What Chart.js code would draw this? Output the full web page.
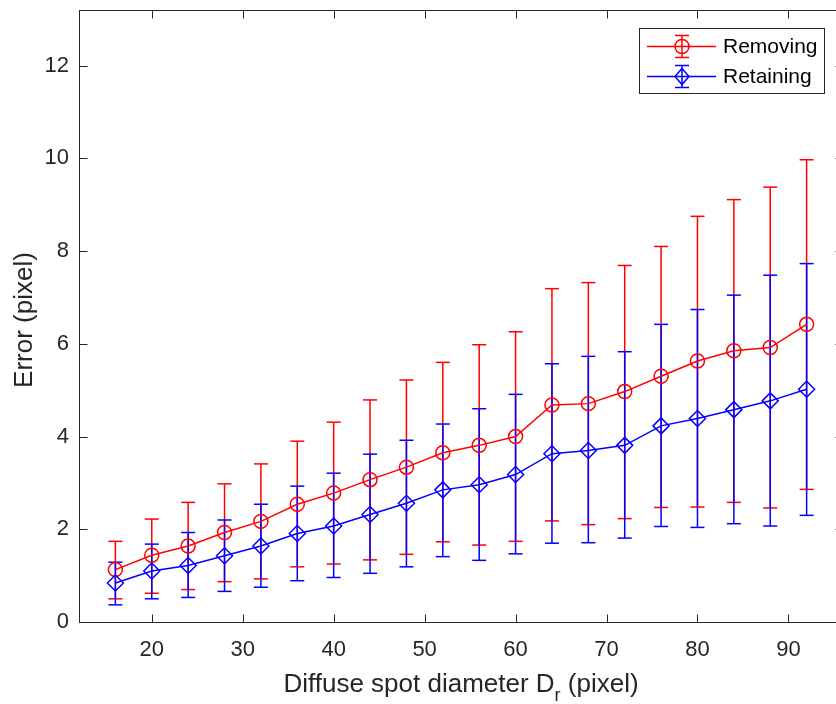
<!DOCTYPE html>
<html>
<head>
<meta charset="utf-8">
<script src="https://cdn.jsdelivr.net/npm/chart.js@4.4.1/dist/chart.umd.min.js"></script>
<style>
  html, body { margin: 0; padding: 0; background: #fff; overflow: hidden; }
  #wrap { width: 836px; height: 704px; overflow: hidden; position: relative; }
  #wrap canvas { display: block; }
</style>
</head>
<body>
<div id="wrap"><canvas id="chart" width="860" height="704"></canvas></div>
<script>
// values
const diameters = [16, 20, 24, 28, 32, 36, 40, 44, 48, 52, 56, 60, 64, 68, 72, 76, 80, 84, 88, 92];

const removingMean  = [1.13, 1.44, 1.64, 1.93, 2.17, 2.54, 2.78, 3.07, 3.34, 3.65, 3.81, 4.00, 4.68, 4.71, 4.97, 5.30, 5.63, 5.85, 5.92, 6.42];
const removingUpper = [1.74, 2.22, 2.58, 2.98, 3.41, 3.90, 4.31, 4.79, 5.22, 5.60, 5.98, 6.26, 7.19, 7.32, 7.69, 8.10, 8.75, 9.11, 9.38, 9.97];
const removingLower = [0.50, 0.62, 0.70, 0.87, 0.93, 1.19, 1.25, 1.34, 1.46, 1.73, 1.66, 1.74, 2.18, 2.10, 2.23, 2.47, 2.48, 2.58, 2.46, 2.86];

const retainingMean  = [0.84, 1.10, 1.22, 1.43, 1.64, 1.91, 2.07, 2.32, 2.56, 2.85, 2.96, 3.18, 3.63, 3.70, 3.81, 4.23, 4.39, 4.58, 4.77, 5.02];
const retainingUpper = [1.29, 1.68, 1.93, 2.20, 2.54, 2.93, 3.21, 3.62, 3.92, 4.27, 4.60, 4.91, 5.57, 5.73, 5.83, 6.42, 6.74, 7.05, 7.48, 7.73];
const retainingLower = [0.37, 0.50, 0.53, 0.66, 0.75, 0.89, 0.96, 1.05, 1.19, 1.41, 1.33, 1.47, 1.70, 1.71, 1.81, 2.06, 2.04, 2.12, 2.07, 2.30];

const seriesNames = ['Removing', 'Retaining'];
const xTicks = [20, 30, 40, 50, 60, 70, 80, 90];
const yTicks = [0, 2, 4, 6, 8, 10, 12];
const xTitle = ['Diffuse spot diameter D', 'r', ' (pixel)'];
const yTitle = 'Error (pixel)';

const AXIS = '#262626';
const RED = '#ff0000';
const BLUE = '#0000ff';
const FONT = '"Liberation Sans", Arial, Helvetica, sans-serif';

const toPoints = (ys) => diameters.map((d, i) => ({x: d, y: ys[i]}));

function line(ctx, x1, y1, x2, y2) {
    ctx.beginPath();
    ctx.moveTo(x1, y1);
    ctx.lineTo(x2, y2);
    ctx.stroke();
}

// no extra label padding from the scales, so the plot box is fixed by layout.padding
function fixPadding(s) {
    s.paddingTop = 0;
    s.paddingBottom = 0;
    s.paddingLeft = 0;
    s.paddingRight = 0;
}

// frame, inward ticks on all sides, error bars (drawn under the lines)
const frameAndBars = {
    id: 'frameAndBars',
    beforeDatasetsDraw(chart) {
        const {ctx, chartArea: a, scales: {x, y}} = chart;
        ctx.save();
        ctx.strokeStyle = AXIS;
        ctx.lineWidth = 1;
        const L = Math.round(a.left) + 0.5, R = Math.round(a.right) + 0.5;
        const T = Math.round(a.top) + 0.5, B = Math.round(a.bottom) + 0.5;
        ctx.strokeRect(L, T, R - L, B - T);
        xTicks.forEach(v => {
            const px = Math.round(x.getPixelForValue(v)) + 0.5;
            line(ctx, px, B, px, B - 8);
            line(ctx, px, T, px, T + 8);
        });
        yTicks.forEach(v => {
            const py = Math.round(y.getPixelForValue(v)) + 0.5;
            line(ctx, L, py, L + 8, py);
            line(ctx, R, py, R - 8, py);
        });

        const bars = [[removingLower, removingUpper, RED], [retainingLower, retainingUpper, BLUE]];
        ctx.lineWidth = 1.5;
        bars.forEach(([lo, hi, col]) => {
            ctx.strokeStyle = col;
            diameters.forEach((d, i) => {
                const px = x.getPixelForValue(d);
                const p1 = y.getPixelForValue(lo[i]);
                const p2 = y.getPixelForValue(hi[i]);
                line(ctx, px, p1, px, p2);
                line(ctx, px - 7, p1, px + 7, p1);
                line(ctx, px - 7, p2, px + 7, p2);
            });
        });
        ctx.restore();
    },
    afterDraw(chart) {
        const {ctx, chartArea: a} = chart;
        ctx.save();
        // legend
        const bx = 639.5, by = 28.5, bw = 185, bh = 65;
        ctx.fillStyle = '#fff';
        ctx.fillRect(bx, by, bw, bh);
        ctx.strokeStyle = AXIS;
        ctx.lineWidth = 1;
        ctx.strokeRect(bx, by, bw, bh);
        const rows = [[RED, 'circle', 46.5], [BLUE, 'diamond', 76.5]];
        ctx.lineWidth = 1.5;
        rows.forEach(([col, shape, cy], i) => {
            ctx.strokeStyle = col;
            line(ctx, 647, cy, 716, cy);
            const mx = 682;
            line(ctx, mx, cy - 11, mx, cy + 11);
            line(ctx, mx - 7, cy - 11, mx + 7, cy - 11);
            line(ctx, mx - 7, cy + 11, mx + 7, cy + 11);
            ctx.beginPath();
            if (shape === 'circle') {
                ctx.arc(mx, cy, 7, 0, Math.PI * 2);
            } else {
                ctx.moveTo(mx, cy - 8);
                ctx.lineTo(mx + 7, cy);
                ctx.lineTo(mx, cy + 8);
                ctx.lineTo(mx - 7, cy);
                ctx.closePath();
            }
            ctx.stroke();
            ctx.fillStyle = '#000';
            ctx.font = '21px ' + FONT;
            ctx.textBaseline = 'middle';
            ctx.textAlign = 'left';
            ctx.fillText(seriesNames[i], 723, cy + 1);
        });

        // x title with subscript
        ctx.fillStyle = AXIS;
        ctx.textBaseline = 'alphabetic';
        ctx.textAlign = 'left';
        const big = '26px ' + FONT, small = '18px ' + FONT;
        ctx.font = big;
        const w1 = ctx.measureText(xTitle[0]).width;
        const w3 = ctx.measureText(xTitle[2]).width;
        ctx.font = small;
        const w2 = ctx.measureText(xTitle[1]).width;
        const cx = (a.left + a.right) / 2;
        let x0 = cx - (w1 + w2 + w3) / 2;
        const base = 692;
        ctx.font = big;
        ctx.fillText(xTitle[0], x0, base);
        ctx.font = small;
        ctx.fillText(xTitle[1], x0 + w1, base + 9);
        ctx.font = big;
        ctx.fillText(xTitle[2], x0 + w1 + w2, base);

        // y title
        ctx.translate(32, (a.top + a.bottom) / 2 + 4);
        ctx.rotate(-Math.PI / 2);
        ctx.textAlign = 'center';
        ctx.fillText(yTitle, 0, 0);
        ctx.restore();
    }
};

const canvas = document.getElementById('chart').getContext('2d');
new Chart(canvas, {
    type: 'line',
    data: {
        datasets: [{
            label: seriesNames[0],
            data: toPoints(removingMean),
            borderColor: RED,
            borderWidth: 1.5,
            backgroundColor: 'rgba(0,0,0,0)',
            pointStyle: 'circle',
            pointRadius: 7,
            pointBorderWidth: 1.5,
            pointBorderColor: RED,
            pointBackgroundColor: 'rgba(0,0,0,0)',
            order: 1
        }, {
            label: seriesNames[1],
            data: toPoints(retainingMean),
            borderColor: BLUE,
            borderWidth: 1.5,
            backgroundColor: 'rgba(0,0,0,0)',
            pointStyle: 'rectRot',
            pointRadius: 8,
            pointBorderWidth: 1.5,
            pointBorderColor: BLUE,
            pointBackgroundColor: 'rgba(0,0,0,0)',
            order: 0
        }]
    },
    options: {
        responsive: false,
        animation: false,
        devicePixelRatio: 1,
        layout: {padding: {top: 10, right: 17, left: 0, bottom: 0}},
        plugins: {
            legend: {display: false},
            tooltip: {enabled: false}
        },
        scales: {
            x: {
                type: 'linear',
                min: 12,
                max: 96,
                grid: {display: false, drawTicks: false},
                border: {display: false},
                ticks: {color: AXIS, font: {size: 22, family: FONT}, padding: 15, maxRotation: 0},
                afterBuildTicks: s => { s.ticks = xTicks.map(v => ({value: v})); },
                afterFit: s => { s.height = 82; fixPadding(s); }
            },
            y: {
                type: 'linear',
                min: 0,
                max: 13.2,
                grid: {display: false, drawTicks: false},
                border: {display: false},
                ticks: {color: AXIS, font: {size: 22, family: FONT}, padding: 10},
                afterBuildTicks: s => { s.ticks = yTicks.map(v => ({value: v})); },
                afterFit: s => { s.width = 79; fixPadding(s); }
            }
        }
    },
    plugins: [frameAndBars]
});
</script>
</body>
</html>
